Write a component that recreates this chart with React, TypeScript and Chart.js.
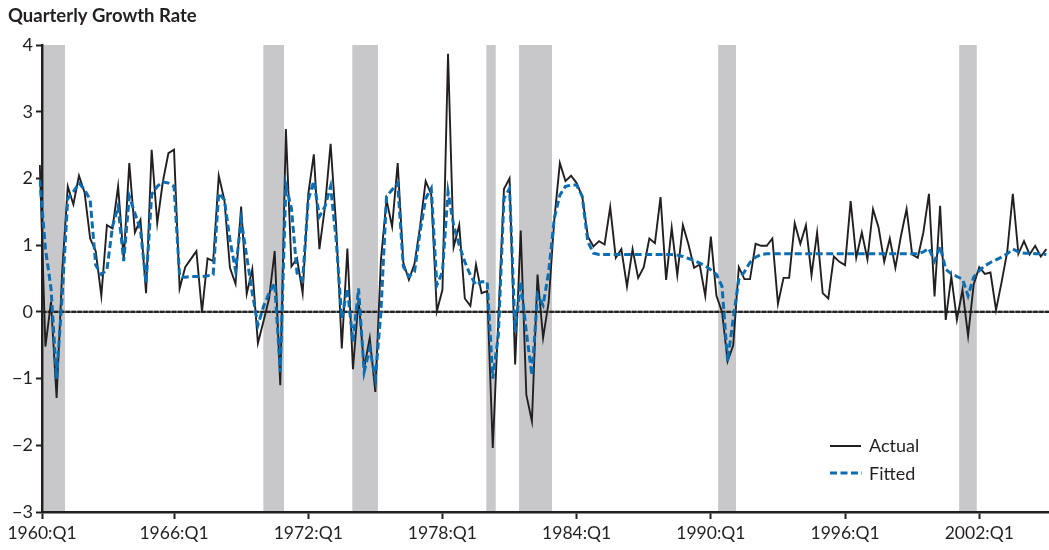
import React, { useEffect, useRef } from 'react';
import { Chart, registerables } from 'chart.js';

Chart.register(...registerables);

// Quarter index 0 = 1960:Q1
const xTickQuarters = [0, 24, 48, 72, 96, 120, 144, 168];
const xTickLabels = ['1960:Q1', '1966:Q1', '1972:Q1', '1978:Q1', '1984:Q1', '1990:Q1', '1996:Q1', '2002:Q1'];
const yTickValues = [-3, -2, -1, 0, 1, 2, 3, 4];

const actual = [
  2.2, -0.52, 0.15, -1.29, 0.6, 1.88, 1.61, 2.04, 1.79, 1.1,
  0.91, 0.24, 1.3, 1.25, 1.88, 0.79, 2.23, 1.19, 1.38, 0.28,
  2.43, 1.33, 1.95, 2.38, 2.43, 0.35, 0.67, 0.79, 0.91, 0.0,
  0.8, 0.76, 2.04, 1.68, 0.66, 0.42, 1.58, 0.27, 0.64, -0.47,
  -0.14, 0.2, 0.91, -1.1, 2.74, 0.68, 0.8, 0.28, 1.76, 2.36,
  0.94, 1.58, 2.52, 1.28, -0.55, 0.95, -0.86, 0.19, -0.84, -0.39,
  -1.2, 0.78, 1.68, 1.28, 2.23, 0.74, 0.48, 0.72, 1.28, 1.96,
  1.76, 0.01, 0.33, 3.87, 0.97, 1.3, 0.2, 0.09, 0.71, 0.28,
  0.31, -2.04, -0.1, 1.84, 2.0, -0.79, 1.22, -1.24, -1.64, 0.56,
  -0.39, 0.15, 1.38, 2.23, 1.96, 2.04, 1.93, 1.73, 1.13, 0.98,
  1.06, 1.01, 1.57, 0.81, 0.94, 0.38, 0.94, 0.51, 0.67, 1.1,
  1.03, 1.72, 0.48, 1.26, 0.55, 1.3, 1.01, 0.66, 0.71, 0.24,
  1.13, 0.24, 0.0, -0.74, -0.5, 0.67, 0.49, 0.49, 1.02, 0.99,
  0.99, 1.1, 0.12, 0.51, 0.51, 1.33, 1.02, 1.3, 0.55, 1.19,
  0.28, 0.2, 0.83, 0.75, 0.7, 1.66, 0.81, 1.19, 0.79, 1.54,
  1.26, 0.75, 1.1, 0.66, 1.14, 1.54, 0.86, 0.81, 1.19, 1.77,
  0.23, 1.59, -0.12, 0.53, -0.12, 0.33, -0.36, 0.41, 0.67, 0.57,
  0.59, 0.03, 0.45, 0.9, 1.77, 0.87, 1.06, 0.86, 0.99, 0.83,
  0.94,
];

const fitted = [
  1.98, 0.95, 0.35, -1.0, 0.25, 1.7, 1.8, 1.93, 1.83, 1.68,
  0.7, 0.56, 0.63, 1.28, 1.58, 0.76, 1.73, 1.48, 1.23, 0.43,
  1.76, 1.88, 1.95, 1.93, 1.88, 0.53, 0.52, 0.53, 0.53, 0.53,
  0.54, 0.56, 1.78, 1.68, 1.08, 0.62, 1.38, 0.83, 0.28, -0.2,
  0.08, 0.28, 0.43, -0.9, 1.9, 1.55, 0.58, 0.48, 1.68, 1.96,
  1.43, 1.58, 1.88, 1.08, -0.1, 0.35, -0.45, 0.35, -0.9, -0.55,
  -1.0, 0.0, 1.73, 1.83, 1.93, 0.68, 0.53, 0.6, 1.2, 1.7,
  1.85, 0.4, 0.6, 1.8, 1.3, 1.0, 0.75, 0.55, 0.4, 0.45,
  0.45, -1.0, -0.35, 1.7, 1.85, -0.3, 0.45, -0.3, -0.95, 0.25,
  0.1, 0.6, 1.4, 1.75, 1.88, 1.9, 1.9, 1.73, 1.05, 0.88,
  0.86, 0.86, 0.86, 0.86, 0.86, 0.86, 0.86, 0.86, 0.86, 0.86,
  0.86, 0.86, 0.86, 0.86, 0.85, 0.83, 0.8, 0.77, 0.73, 0.69,
  0.63, 0.56, 0.38, -0.74, -0.1, 0.49, 0.6, 0.74, 0.82, 0.86,
  0.87, 0.87, 0.87, 0.87, 0.87, 0.87, 0.87, 0.87, 0.87, 0.87,
  0.87, 0.87, 0.87, 0.87, 0.87, 0.87, 0.87, 0.87, 0.87, 0.87,
  0.87, 0.87, 0.87, 0.87, 0.87, 0.87, 0.87, 0.87, 0.9, 0.95,
  0.76, 0.98, 0.64, 0.57, 0.53, 0.49, 0.24, 0.52, 0.62, 0.69,
  0.74, 0.78, 0.82, 0.87, 0.94, 0.9, 0.88, 0.88, 0.87, 0.87,
  0.86,
];

// Recession periods, in quarter-index units
const recessionStart = [0.63, 39.97, 55.88, 79.85, 85.7, 121.3, 164.4];
const recessionEnd = [4.5, 43.67, 60.48, 81.53, 91.6, 124.5, 167.55];

const X_MIN = 0.39;
const X_MAX = 180.47;

const INK = '#231f20';
const BLUE = '#0b6db2';
const FONT = 'Lato, "Open Sans", sans-serif';

export default function App() {
  const canvasRef = useRef<HTMLCanvasElement | null>(null);

  useEffect(() => {
    document.body.style.margin = '0';
    const canvas = canvasRef.current;
    if (!canvas) return;

    const decorations = {
      id: 'decorations',
      beforeDraw(chart: any) {
        const { ctx, chartArea, scales } = chart;
        const xs = scales.x;
        ctx.save();
        ctx.fillStyle = '#c8c8ca';
        for (let i = 0; i < recessionStart.length; i++) {
          const x1 = Math.max(xs.getPixelForValue(recessionStart[i]), chartArea.left);
          const x2 = xs.getPixelForValue(recessionEnd[i]);
          ctx.fillRect(x1, chartArea.top, x2 - x1, chartArea.bottom - chartArea.top);
        }
        ctx.restore();
      },
      beforeDatasetsDraw(chart: any) {
        const { ctx, chartArea, scales } = chart;
        const y0 = scales.y.getPixelForValue(0);
        ctx.save();
        ctx.strokeStyle = '#777';
        ctx.lineWidth = 2.2;
        ctx.beginPath();
        ctx.moveTo(chartArea.left, y0);
        ctx.lineTo(chartArea.right, y0);
        ctx.stroke();
        ctx.strokeStyle = '#222';
        ctx.lineWidth = 2.2;
        ctx.setLineDash([4.5, 1.4]);
        ctx.beginPath();
        ctx.moveTo(chartArea.left, y0);
        ctx.lineTo(chartArea.right, y0);
        ctx.stroke();
        ctx.restore();
      },
      afterDraw(chart: any) {
        const { ctx } = chart;
        ctx.save();
        // Title
        ctx.fillStyle = INK;
        ctx.font = `bold 18.5px ${FONT}`;
        ctx.textAlign = 'left';
        ctx.textBaseline = 'alphabetic';
        ctx.fillText('Quarterly Growth Rate', 8, 22);
        // Legend
        ctx.lineWidth = 2;
        ctx.strokeStyle = INK;
        ctx.setLineDash([]);
        ctx.beginPath();
        ctx.moveTo(830, 446);
        ctx.lineTo(861, 446);
        ctx.stroke();
        ctx.strokeStyle = BLUE;
        ctx.lineWidth = 3;
        ctx.setLineDash([7, 3.5]);
        ctx.beginPath();
        ctx.moveTo(830, 473);
        ctx.lineTo(862, 473);
        ctx.stroke();
        ctx.setLineDash([]);
        ctx.fillStyle = INK;
        ctx.font = `18px ${FONT}`;
        ctx.textBaseline = 'middle';
        ctx.fillText('Actual', 869, 446);
        ctx.fillText('Fitted', 869, 474);
        ctx.restore();
      },
    };

    const chart = new Chart(canvas, {
      type: 'line',
      data: {
        datasets: [
          {
            label: 'Fitted',
            data: fitted.map((v, i) => ({ x: i, y: v })),
            borderColor: BLUE,
            borderWidth: 3,
            borderDash: [7, 3.5],
            pointRadius: 0,
            fill: false,
            tension: 0,
            clip: { left: 3, top: 0, right: 0, bottom: 0 } as any,
          },
          {
            label: 'Actual',
            data: actual.map((v, i) => ({ x: i, y: v })),
            borderColor: INK,
            borderWidth: 1.9,
            pointRadius: 0,
            fill: false,
            tension: 0,
            clip: { left: 3, top: 0, right: 0, bottom: 0 } as any,
          },
        ],
      },
      options: {
        responsive: false,
        animation: false,
        devicePixelRatio: window.devicePixelRatio || 1,
        layout: { padding: { top: 45, right: 0, bottom: 0, left: 0 } },
        plugins: {
          legend: { display: false },
          title: { display: false },
          tooltip: { enabled: false },
        },
        scales: {
          x: {
            type: 'linear',
            min: X_MIN,
            max: X_MAX,
            afterBuildTicks: (scale: any) => {
              scale.ticks = xTickQuarters.map((q) => ({ value: Math.max(q, X_MIN) }));
            },
            afterFit: (scale: any) => {
              scale.height = 38;
            },
            ticks: {
              autoSkip: false,
              maxRotation: 0,
              minRotation: 0,
              padding: 4,
              color: INK,
              font: { family: FONT, size: 17.5 },
              callback: (_v: any, idx: number) => xTickLabels[idx],
            },
            grid: {
              drawOnChartArea: false,
              drawTicks: true,
              tickLength: 7,
              tickWidth: 2,
              tickColor: INK,
            },
            border: { display: true, color: INK, width: 2.5 },
          },
          y: {
            type: 'linear',
            min: -3,
            max: 4,
            afterBuildTicks: (scale: any) => {
              scale.ticks = yTickValues.map((v) => ({ value: v }));
            },
            afterFit: (scale: any) => {
              scale.width = 42;
            },
            ticks: {
              padding: 3,
              color: INK,
              font: { family: FONT, size: 18 },
              callback: (v: any) => (Number(v) < 0 ? '\u2212' + Math.abs(Number(v)) : String(v)),
            },
            grid: {
              drawOnChartArea: false,
              drawTicks: true,
              tickLength: 6,
              tickWidth: 2,
              tickColor: INK,
            },
            border: { display: true, color: INK, width: 2.5 },
          },
        },
      } as any,
      plugins: [decorations],
    });

    return () => {
      chart.destroy();
    };
  }, []);

  return (
    <div style={{ width: 1049, height: 550, background: '#fff' }}>
      <canvas ref={canvasRef} width={1049} height={550} style={{ display: 'block' }} />
    </div>
  );
}
